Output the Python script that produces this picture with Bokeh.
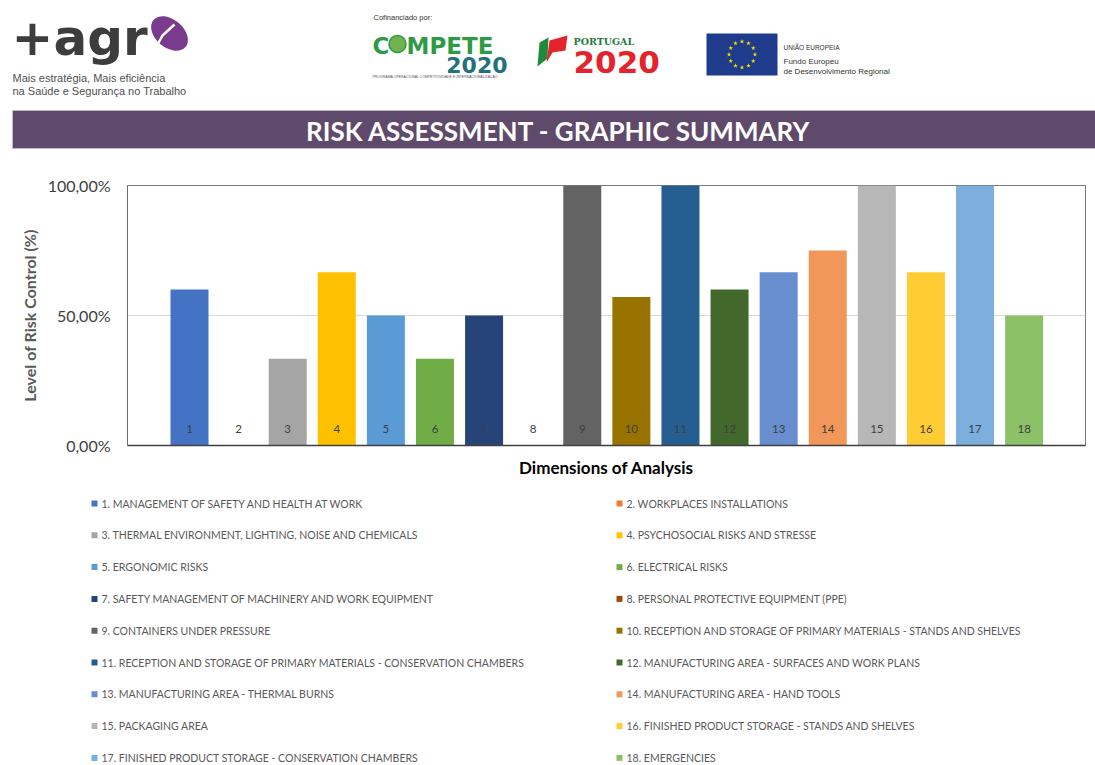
from bokeh.plotting import figure
from bokeh.layouts import column
from bokeh.models import Range1d, FixedTicker, ColumnDataSource
from bokeh.core.properties import value
from bokeh.embed import file_html
from bokeh.resources import INLINE
import math

# ---------------- data ----------------
categories = [str(i) for i in range(1, 19)]
control_pct = [60.0, 0.0, 33.33, 66.67, 50.0, 33.33, 50.0, 0.0, 100.0,
               57.14, 100.0, 60.0, 66.67, 75.0, 100.0, 66.67, 100.0, 50.0]
bar_colors = ["#4472C4", "#ED7D31", "#A5A5A5", "#FFC000", "#5B9BD5", "#70AD47",
              "#264478", "#9E480E", "#636363", "#997300", "#255E91", "#43682B",
              "#698ED0", "#F1975A", "#B7B7B7", "#FFCD33", "#7CAFDD", "#8CC168"]
legend_labels = [
    "1. MANAGEMENT OF SAFETY AND HEALTH AT WORK",
    "2. WORKPLACES INSTALLATIONS",
    "3. THERMAL ENVIRONMENT, LIGHTING, NOISE AND CHEMICALS",
    "4. PSYCHOSOCIAL RISKS AND STRESSE",
    "5. ERGONOMIC RISKS",
    "6. ELECTRICAL RISKS",
    "7. SAFETY MANAGEMENT OF MACHINERY AND WORK EQUIPMENT",
    "8. PERSONAL PROTECTIVE EQUIPMENT (PPE)",
    "9. CONTAINERS UNDER PRESSURE",
    "10. RECEPTION AND STORAGE OF PRIMARY MATERIALS - STANDS AND SHELVES",
    "11. RECEPTION AND STORAGE OF PRIMARY MATERIALS - CONSERVATION CHAMBERS",
    "12. MANUFACTURING AREA - SURFACES AND WORK PLANS",
    "13. MANUFACTURING AREA - THERMAL BURNS",
    "14. MANUFACTURING AREA - HAND TOOLS",
    "15. PACKAGING AREA",
    "16. FINISHED PRODUCT STORAGE - STANDS AND SHELVES",
    "17. FINISHED PRODUCT STORAGE - CONSERVATION CHAMBERS",
    "18. EMERGENCIES",
]
y_ticks = [0, 50, 100]
y_tick_labels = ["0,00%", "50,00%", "100,00%"]

TITLE = "RISK ASSESSMENT - GRAPHIC SUMMARY"
W = 1095
H_HDR, H_CH, H_LG = 160, 330, 275


def blank(h):
    f = figure(width=W, height=h, x_range=Range1d(0, W), y_range=Range1d(h, 0),
               toolbar_location=None, output_backend="svg", min_border=0)
    f.axis.visible = False
    f.grid.visible = False
    f.outline_line_color = None
    return f


# ---------------- header ----------------
hdr = blank(H_HDR)
# +agro logo
hdr.text(x=[11], y=[37.5], text=["+agr"], text_font=value("DejaVu Sans"), text_font_style="bold",
         text_font_size="50px", text_color="#3d3d3d", text_baseline="middle")
hdr.ellipse(x=[169], y=[33], width=42, height=28, angle=-0.7, fill_color="#7a3b8e", line_color=None)
hdr.line(x=[156, 162, 174], y=[46, 35, 24], line_color="white", line_width=2.5)
hdr.text(x=[12, 12], y=[77, 90], text=["Mais estratégia, Mais eficiência",
                                        "na Saúde e Segurança no Trabalho"],
         text_font=value("Liberation Sans"), text_font_size="11px", text_color="#505050",
         text_baseline="middle")
# COMPETE 2020
hdr.text(x=[373], y=[17], text=["Cofinanciado por:"], text_font=value("Liberation Sans"),
         text_font_size="7.5px", text_color="#333333", text_baseline="middle")
hdr.text(x=[372], y=[45], text=["C"], text_font=value("DejaVu Sans"), text_font_style="bold",
         text_font_size="23px", text_color="#2f9a46", text_baseline="middle")
hdr.circle(x=[397], y=[43.5], radius=8.5, fill_color="#6fb24f", line_color="#2f9a46", line_width=1.5)
hdr.text(x=[406], y=[45], text=["MPETE"], text_font=value("DejaVu Sans"), text_font_style="bold",
         text_font_size="23px", text_color="#2f9a46", text_baseline="middle")
hdr.text(x=[507], y=[64], text=["2020"], text_font=value("DejaVu Sans"), text_font_style="bold",
         text_font_size="22px", text_color="#23727a", text_baseline="middle", text_align="right")
hdr.text(x=[372], y=[76], text=["PROGRAMA OPERACIONAL COMPETITIVIDADE E INTERNACIONALIZAÇÃO"],
         text_font=value("Liberation Sans"), text_font_size="3.5px", text_color="#555555",
         text_baseline="middle")
# PORTUGAL 2020
hdr.patch(x=[537, 539, 548, 547], y=[66, 42, 37, 58], fill_color="#1f8a3c", line_color=None)
hdr.patch(x=[546, 549, 567, 565, 552], y=[62, 40, 35, 50, 52], fill_color="#e4232b", line_color=None)
hdr.text(x=[573], y=[41], text=["PORTUGAL"], text_font=value("DejaVu Serif"), text_font_style="bold",
         text_font_size="9.5px", text_color="#1f7a3a", text_baseline="middle")
hdr.text(x=[573], y=[61.5], text=["2020"], text_font=value("DejaVu Sans"), text_font_style="bold",
         text_font_size="31px", text_color="#e4232b", text_baseline="middle")
# EU flag
hdr.rect(x=[741.5], y=[54], width=71, height=42, fill_color="#1f3b8c", line_color=None)
ang = [2 * math.pi * k / 12 for k in range(12)]
hdr.scatter(x=[741.5 + 13 * math.cos(a) for a in ang], y=[54 + 13 * math.sin(a) for a in ang],
            marker="star", size=5, fill_color="#f5d800", line_color=None)
hdr.text(x=[783, 783, 783], y=[47, 61, 71],
         text=["UNIÃO EUROPEIA", "Fundo  Europeu", "de Desenvolvimento Regional"],
         text_font=value("Liberation Sans"), text_font_size=["6.5px", "8px", "8px"],
         text_color="#333333", text_baseline="middle")
# title bar
hdr.rect(x=[553.5], y=[129], width=1083, height=38, fill_color="#5f4a6b",
         line_color="#c4b8cc", line_width=1)
hdr.text(x=[558], y=[130], text=[TITLE], text_font=value("Lato"), text_font_style="bold",
         text_font_size="26px", text_color="white", text_align="center", text_baseline="middle")

# ---------------- chart ----------------
xpos = list(range(1, len(categories) + 1))
src = ColumnDataSource(dict(x=xpos, top=control_pct, color=bar_colors, label=categories))

ch = figure(width=W, height=H_CH, x_range=Range1d(-0.263, 19.25), y_range=Range1d(0, 100),
            toolbar_location=None, output_backend="svg",
            min_border_left=127, min_border_right=10, min_border_top=25, min_border_bottom=45)
ch.vbar(x="x", top="top", bottom=0, width=0.774, fill_color="color", line_color=None, source=src)
ch.text(x="x", y=6.5, text="label", source=src, text_font=value("Lato"), text_font_size="11.5px",
        text_color="#404040", text_align="center", text_baseline="middle")

ch.outline_line_color = "#7a7a7a"
ch.xgrid.visible = False
ch.ygrid.ticker = FixedTicker(ticks=y_ticks)
ch.ygrid.grid_line_color = "#d9d9d9"

ya = ch.yaxis[0]
ya.ticker = FixedTicker(ticks=y_ticks)
ya.major_label_overrides = dict(zip(y_ticks, y_tick_labels))
ya.major_label_text_font = "Lato"
ya.major_label_text_font_size = "16px"
ya.major_label_text_color = "#404040"
ya.major_tick_out = 0
ya.major_tick_in = 0
ya.minor_tick_out = 0
ya.minor_tick_in = 0
ya.major_label_standoff = 17
ya.axis_line_color = "#6d6d6d"
ya.axis_label = "Level of Risk Control (%)"
ya.axis_label_text_font = "Lato"
ya.axis_label_text_font_style = "bold"
ya.axis_label_text_font_size = "16px"
ya.axis_label_text_color = "#595959"
ya.axis_label_standoff = 6

xa = ch.xaxis[0]
xa.ticker = FixedTicker(ticks=[])
xa.major_tick_out = 0
xa.major_tick_in = 0
xa.minor_tick_out = 0
xa.minor_tick_in = 0
xa.major_label_standoff = 0
xa.axis_line_color = "#404040"
xa.axis_line_width = 1.5
xa.axis_label = "Dimensions of Analysis"
xa.axis_label_text_font = "Lato"
xa.axis_label_text_font_style = "bold"
xa.axis_label_text_font_size = "17px"
xa.axis_label_text_color = "#000000"
xa.axis_label_standoff = 11

# ---------------- legend ----------------
lg = blank(H_LG)
n = len(legend_labels)
cols = [i % 2 for i in range(n)]
rows = [i // 2 for i in range(n)]
lsrc = ColumnDataSource(dict(
    sx=[[94, 619][c] for c in cols],
    tx=[[101, 626][c] for c in cols],
    y=[13 + 31.8 * r for r in rows],
    color=bar_colors, label=legend_labels))
lg.rect(x="sx", y="y", width=6, height=6, fill_color="color", line_color=None, source=lsrc)
lg.text(x="tx", y="y", text="label", source=lsrc, text_font=value("Lato"), text_font_size="10.5px",
        text_color="#595959", text_baseline="middle")

layout = column(column(hdr), ch, column(lg), spacing=0)
open("out.html", "w").write(file_html(layout, INLINE))
